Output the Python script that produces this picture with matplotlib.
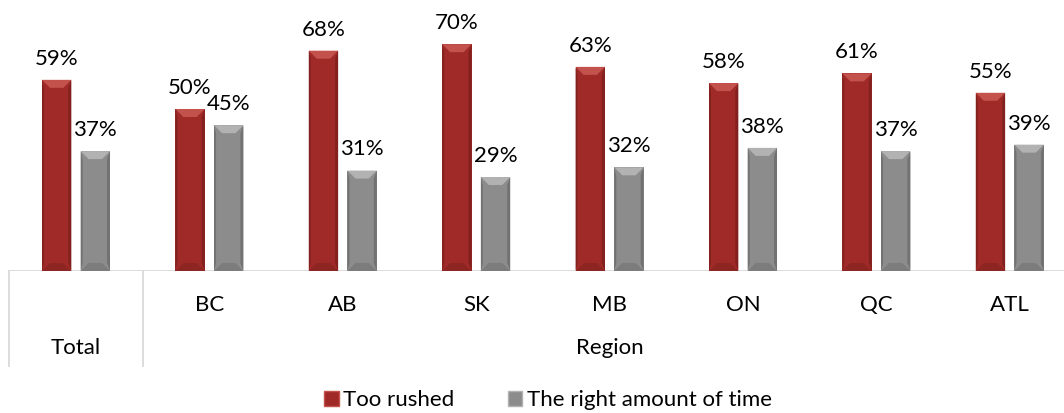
import numpy as np
import matplotlib.pyplot as plt
from matplotlib.patches import Polygon, Patch
from matplotlib.transforms import blended_transform_factory

groups = ["Total", "BC", "AB", "SK", "MB", "ON", "QC", "ATL"]
region_label = "Region"
too_rushed = [59, 50, 68, 70, 63, 58, 61, 55]
right_amount = [37, 45, 31, 29, 32, 38, 37, 39]
series_names = ["Too rushed", "The right amount of time"]

RED = dict(face="#a02a28", top="#c4524c", side="#83211f", bottom="#8d2523")
GREY = dict(face="#8c8c8c", top="#b2b2b2", side="#727272", bottom="#7c7c7c")

plt.rcParams["font.family"] = ["Lato", "DejaVu Sans"]
FS = 16


def bevel(ax, rect, col, px=8):
    # fake the Excel "bevel" look: lighter top cap, darker sides and foot
    x0, y0 = rect.get_x(), rect.get_y()
    x1, y1 = x0 + rect.get_width(), y0 + rect.get_height()
    inv = ax.transData.inverted()
    (X0, Y0), (X1, Y1) = ax.transData.transform([(x0, y0), (x1, y1)])
    b = min(px, (X1 - X0) / 2.2)
    pts = lambda p: inv.transform(p)
    top = pts([(X0, Y1), (X1, Y1), (X1 - b, Y1 - b), (X0 + b, Y1 - b)])
    left = pts([(X0, Y1), (X0 + 2, Y1 - b), (X0 + 2, Y0 + b), (X0, Y0)])
    right = pts([(X1, Y1), (X1 - 3, Y1 - b), (X1 - 3, Y0 + b), (X1, Y0)])
    foot = pts([(X0, Y0), (X1, Y0), (X1 - b, Y0 + b), (X0 + b, Y0 + b)])
    for poly, c in ((left, col["side"]), (right, col["side"]),
                    (foot, col["bottom"]), (top, col["top"])):
        ax.add_patch(Polygon(poly, closed=True, facecolor=c, edgecolor="none",
                             zorder=3))


fig = plt.figure(figsize=(10.64, 4.13), dpi=100)
ax = fig.add_axes([0, 1 - 271 / 413, 1, 271 / 413])
ax.set_xlim(-76 / 133.4, (1064 - 76) / 133.4)
ax.set_ylim(0, 271 / 3.24)
ax.axis("off")

x = np.arange(len(groups))
w = 0.22
off = 0.145
b1 = ax.bar(x - off, too_rushed, w, color=RED["face"], zorder=2)
b2 = ax.bar(x + off, right_amount, w, color=GREY["face"], zorder=2)

for bars, vals, col in ((b1, too_rushed, RED), (b2, right_amount, GREY)):
    for r, v in zip(bars, vals):
        bevel(ax, r, col)
        ax.annotate(f"{v}%", (r.get_x() + r.get_width() / 2, v),
                    xytext=(0, 8), textcoords="offset points",
                    ha="center", va="bottom", fontsize=FS, color="#000000")

# category axis with two levels
line_c = "#d9d9d9"
ax.plot([-0.5, 8], [0, 0], color=line_c, lw=1.3, clip_on=True, zorder=1)
trans = blended_transform_factory(ax.transData, fig.transFigure)
for xs in (-0.5, 0.5):
    fig.add_artist(plt.Line2D([xs, xs], [1 - 271 / 413, 1 - 366 / 413],
                              transform=trans, color=line_c, lw=1.3))

for i, g in enumerate(groups[1:], start=1):
    fig.text(i, 1 - 305 / 413, g, transform=trans, ha="center", va="center",
             fontsize=FS)
fig.text(0, 1 - 348 / 413, groups[0], transform=trans, ha="center",
         va="center", fontsize=FS)
fig.text(4, 1 - 348 / 413, region_label, transform=trans, ha="center",
         va="center", fontsize=FS)

handles = [Patch(facecolor=RED["face"], edgecolor=RED["top"]),
           Patch(facecolor=GREY["face"], edgecolor=GREY["top"])]
fig.legend(handles, series_names, loc="center", bbox_to_anchor=(0.515, 1 - 400 / 413),
           ncol=2, frameon=False, fontsize=FS, handlelength=0.65,
           handleheight=0.65, handletextpad=0.2, columnspacing=2.4)

fig.savefig("out.png", dpi=100)
